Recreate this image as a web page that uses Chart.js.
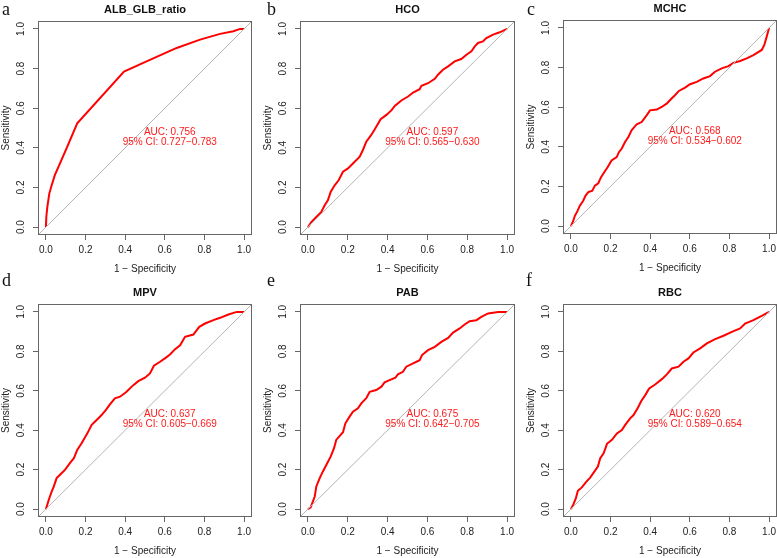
<!DOCTYPE html>
<html>
<head>
<meta charset="utf-8">
<script src="https://cdn.jsdelivr.net/npm/chart.js@4.4.1/dist/chart.umd.min.js"></script>
<style>
  html, body { margin: 0; padding: 0; background: #fff; overflow: hidden; width: 777px; height: 558px; }
  canvas { position: absolute; }
  .letter { position: absolute; font-family: 'Liberation Serif', serif; font-size: 18px; line-height: 18px; color: #111; }
</style>
</head>
<body>
<script>
// ---- data ----
const markers = ['ALB_GLB_ratio', 'HCO', 'MCHC', 'MPV', 'PAB', 'RBC'];
const letters = ['a', 'b', 'c', 'd', 'e', 'f'];
const aucValues = ['0.756', '0.597', '0.568', '0.637', '0.675', '0.620'];
const ciLower = ['0.727', '0.565', '0.534', '0.605', '0.642', '0.589'];
const ciUpper = ['0.783', '0.630', '0.602', '0.669', '0.705', '0.654'];

const tickValues = [0, 0.2, 0.4, 0.6, 0.8, 1.0];
const tickLabels = ['0.0', '0.2', '0.4', '0.6', '0.8', '1.0'];
const axisMin = -0.04, axisMax = 1.04;

// 1 - specificity (x) and sensitivity (y)
const albFpr  = [0, 0.002, 0.007, 0.017, 0.029, 0.045, 0.071, 0.104, 0.158, 0.394, 0.508, 0.66, 0.778, 0.879, 0.946, 0.98, 1];
const albSens = [0, 0.051, 0.101, 0.169, 0.211, 0.262, 0.321, 0.397, 0.524, 0.785, 0.836, 0.904, 0.946, 0.975, 0.988, 1.0, 1];

const hcoFpr  = [0, 0.017, 0.042, 0.067, 0.084, 0.1, 0.114, 0.134, 0.154, 0.176, 0.201, 0.226, 0.26, 0.276, 0.293, 0.318, 0.338, 0.365, 0.394, 0.42, 0.436, 0.469, 0.503, 0.528, 0.561, 0.57, 0.603, 0.637, 0.653, 0.678, 0.704, 0.737, 0.77, 0.796, 0.821, 0.838, 0.854, 0.879, 0.896, 0.93, 0.963, 1];
const hcoSens = [0, 0.025, 0.051, 0.076, 0.11, 0.135, 0.177, 0.211, 0.236, 0.279, 0.296, 0.321, 0.355, 0.389, 0.431, 0.465, 0.498, 0.544, 0.566, 0.59, 0.611, 0.639, 0.659, 0.679, 0.696, 0.713, 0.726, 0.748, 0.769, 0.794, 0.811, 0.836, 0.848, 0.87, 0.887, 0.912, 0.929, 0.937, 0.954, 0.971, 0.983, 1];

const mchcFpr  = [0, 0.012, 0.02, 0.034, 0.045, 0.062, 0.074, 0.088, 0.108, 0.121, 0.138, 0.152, 0.168, 0.185, 0.205, 0.231, 0.242, 0.256, 0.273, 0.29, 0.306, 0.332, 0.357, 0.382, 0.399, 0.433, 0.458, 0.483, 0.508, 0.525, 0.545, 0.576, 0.601, 0.635, 0.668, 0.702, 0.727, 0.761, 0.795, 0.82, 0.854, 0.887, 0.921, 0.963, 0.976, 0.988, 1];
const mchcSens = [0, 0.027, 0.052, 0.078, 0.103, 0.128, 0.154, 0.171, 0.179, 0.204, 0.216, 0.247, 0.272, 0.297, 0.331, 0.348, 0.373, 0.39, 0.424, 0.449, 0.483, 0.514, 0.525, 0.559, 0.584, 0.588, 0.601, 0.618, 0.644, 0.66, 0.682, 0.699, 0.716, 0.728, 0.745, 0.757, 0.779, 0.796, 0.807, 0.824, 0.833, 0.846, 0.863, 0.889, 0.914, 0.956, 1];

const mpvFpr  = [0, 0.012, 0.02, 0.029, 0.04, 0.054, 0.071, 0.096, 0.121, 0.141, 0.158, 0.18, 0.209, 0.231, 0.256, 0.281, 0.303, 0.323, 0.348, 0.374, 0.407, 0.438, 0.466, 0.5, 0.525, 0.545, 0.576, 0.604, 0.626, 0.652, 0.677, 0.702, 0.744, 0.774, 0.803, 0.845, 0.879, 0.921, 0.963, 1];
const mpvSens = [0, 0.039, 0.064, 0.089, 0.115, 0.157, 0.174, 0.199, 0.233, 0.258, 0.3, 0.334, 0.384, 0.427, 0.452, 0.477, 0.503, 0.531, 0.562, 0.57, 0.595, 0.626, 0.649, 0.666, 0.688, 0.727, 0.747, 0.767, 0.784, 0.811, 0.831, 0.874, 0.885, 0.924, 0.941, 0.958, 0.97, 0.987, 1.0, 1];

const pabFpr  = [0, 0.013, 0.025, 0.034, 0.042, 0.059, 0.075, 0.092, 0.114, 0.131, 0.142, 0.164, 0.176, 0.188, 0.209, 0.226, 0.251, 0.268, 0.293, 0.31, 0.343, 0.369, 0.385, 0.41, 0.439, 0.452, 0.477, 0.494, 0.528, 0.561, 0.573, 0.603, 0.637, 0.67, 0.704, 0.729, 0.762, 0.787, 0.812, 0.846, 0.871, 0.905, 0.955, 1];
const pabSens = [0, 0.008, 0.039, 0.064, 0.115, 0.157, 0.191, 0.224, 0.266, 0.309, 0.351, 0.376, 0.39, 0.435, 0.469, 0.494, 0.511, 0.536, 0.562, 0.595, 0.604, 0.621, 0.643, 0.654, 0.666, 0.683, 0.696, 0.722, 0.739, 0.755, 0.781, 0.806, 0.823, 0.848, 0.868, 0.895, 0.916, 0.936, 0.953, 0.958, 0.975, 0.992, 1.0, 1];

const rbcFpr  = [0, 0.013, 0.025, 0.035, 0.055, 0.076, 0.097, 0.119, 0.136, 0.148, 0.165, 0.182, 0.207, 0.232, 0.257, 0.274, 0.299, 0.316, 0.338, 0.355, 0.375, 0.395, 0.425, 0.459, 0.484, 0.509, 0.543, 0.568, 0.593, 0.618, 0.652, 0.686, 0.728, 0.77, 0.812, 0.854, 0.879, 0.921, 0.963, 1];
const rbcSens = [0, 0.025, 0.056, 0.093, 0.11, 0.137, 0.16, 0.191, 0.216, 0.258, 0.283, 0.331, 0.351, 0.384, 0.401, 0.427, 0.46, 0.477, 0.514, 0.548, 0.578, 0.612, 0.632, 0.659, 0.683, 0.713, 0.722, 0.747, 0.764, 0.794, 0.815, 0.84, 0.862, 0.879, 0.899, 0.916, 0.941, 0.958, 0.98, 1];

const curves = [
  [albFpr, albSens], [hcoFpr, hcoSens], [mchcFpr, mchcSens],
  [mpvFpr, mpvSens], [pabFpr, pabSens], [rbcFpr, rbcSens]
];

// ---- layout (plot box of each panel, in page pixels) ----
const boxes = [
  { left: 38,  top: 21,  w: 214, h: 214, padRight: 10 },
  { left: 300, top: 21,  w: 215, h: 214, padRight: 10 },
  { left: 563, top: 20,  w: 214, h: 214, padRight: 0 },
  { left: 38,  top: 304, w: 214, h: 213, padRight: 10 },
  { left: 300, top: 304, w: 215, h: 213, padRight: 10 },
  { left: 563, top: 304, w: 214, h: 213, padRight: 0 }
];
const letterPos = [[2, 0], [267, 0], [527, 0], [2, 271], [267, 271], [526, 271]];

const yAxisW = 38, titleH = 21, xAxisH = 41;
const textColor = '#222';
const frameColor = '#666';
const sans = "'Liberation Sans', Arial, sans-serif";

// frame round the plot region
const boxPlugin = {
  id: 'box',
  afterDraw(chart) {
    const { ctx, chartArea: a } = chart;
    ctx.save();
    ctx.strokeStyle = frameColor;
    ctx.lineWidth = 1;
    ctx.strokeRect(a.left + 0.5, a.top + 0.5, a.right - a.left - 1, a.bottom - a.top - 1);
    ctx.restore();
  }
};

// AUC / CI text inside the plot
const aucPlugin = {
  id: 'auc',
  afterDatasetsDraw(chart, args, opts) {
    const { ctx, scales } = chart;
    const x = scales.x.getPixelForValue(0.625);
    ctx.save();
    ctx.fillStyle = '#ff1a1a';
    ctx.font = '10px ' + sans;
    ctx.textAlign = 'center';
    ctx.textBaseline = 'middle';
    ctx.fillText(opts.lines[0], x, scales.y.getPixelForValue(0.48));
    ctx.fillText(opts.lines[1], x, scales.y.getPixelForValue(0.428));
    ctx.restore();
  }
};

function axisOptions(isX) {
  return {
    type: 'linear',
    min: axisMin,
    max: axisMax,
    afterBuildTicks: s => { s.ticks = tickValues.map(v => ({ value: v })); },
    afterFit: s => {
      if (isX) { s.height = xAxisH; s.paddingLeft = 0; s.paddingRight = 0; }
      else { s.width = yAxisW; s.paddingTop = 0; s.paddingBottom = 0; }
    },
    ticks: {
      autoSkip: false,
      callback: (v, i) => tickLabels[i],
      font: { family: sans, size: 10 },
      color: textColor,
      padding: isX ? 4 : 5,
      minRotation: isX ? 0 : 90,
      maxRotation: isX ? 0 : 90,
      crossAlign: isX ? 'near' : 'center'
    },
    grid: { drawOnChartArea: false, drawTicks: true, tickLength: 5, color: frameColor },
    border: { display: false },
    title: {
      display: true,
      text: isX ? '1 − Specificity' : 'Sensitivity',
      font: { family: sans, size: 10 },
      color: textColor,
      padding: isX ? { top: 0, bottom: 1 } : { top: 0, bottom: 0 }
    }
  };
}

boxes.forEach((b, i) => {
  const canvas = document.createElement('canvas');
  canvas.width = yAxisW + b.w + b.padRight;
  canvas.height = titleH + b.h + xAxisH;
  canvas.style.left = (b.left - yAxisW) + 'px';
  canvas.style.top = (b.top - titleH) + 'px';
  document.body.appendChild(canvas);

  const [xs, ys] = curves[i];
  const points = xs.map((x, k) => ({ x: x, y: ys[k] }));
  const diagonal = [{ x: axisMin, y: axisMin }, { x: axisMax, y: axisMax }];

  new Chart(canvas, {
    type: 'line',
    data: {
      datasets: [
        { data: diagonal, borderColor: '#b4b4b4', borderWidth: 1, pointRadius: 0 },
        { data: points, borderColor: '#ff0000', borderWidth: 2, pointRadius: 0, tension: 0 }
      ]
    },
    options: {
      responsive: false,
      animation: false,
      events: [],
      layout: { padding: { left: 0, top: 0, right: b.padRight, bottom: 0 } },
      plugins: {
        legend: { display: false },
        tooltip: { enabled: false },
        title: {
          display: true,
          text: markers[i],
          fullSize: false,
          color: '#111',
          font: { family: sans, size: 11, weight: 'bold' },
          padding: { top: 3, bottom: 4.8 }
        },
        auc: { lines: ['AUC: ' + aucValues[i], '95% CI: ' + ciLower[i] + '−' + ciUpper[i]] }
      },
      scales: { x: axisOptions(true), y: axisOptions(false) }
    },
    plugins: [boxPlugin, aucPlugin]
  });

  const tag = document.createElement('div');
  tag.className = 'letter';
  tag.textContent = letters[i];
  tag.style.left = letterPos[i][0] + 'px';
  tag.style.top = letterPos[i][1] + 'px';
  document.body.appendChild(tag);
});
</script>
</body>
</html>
